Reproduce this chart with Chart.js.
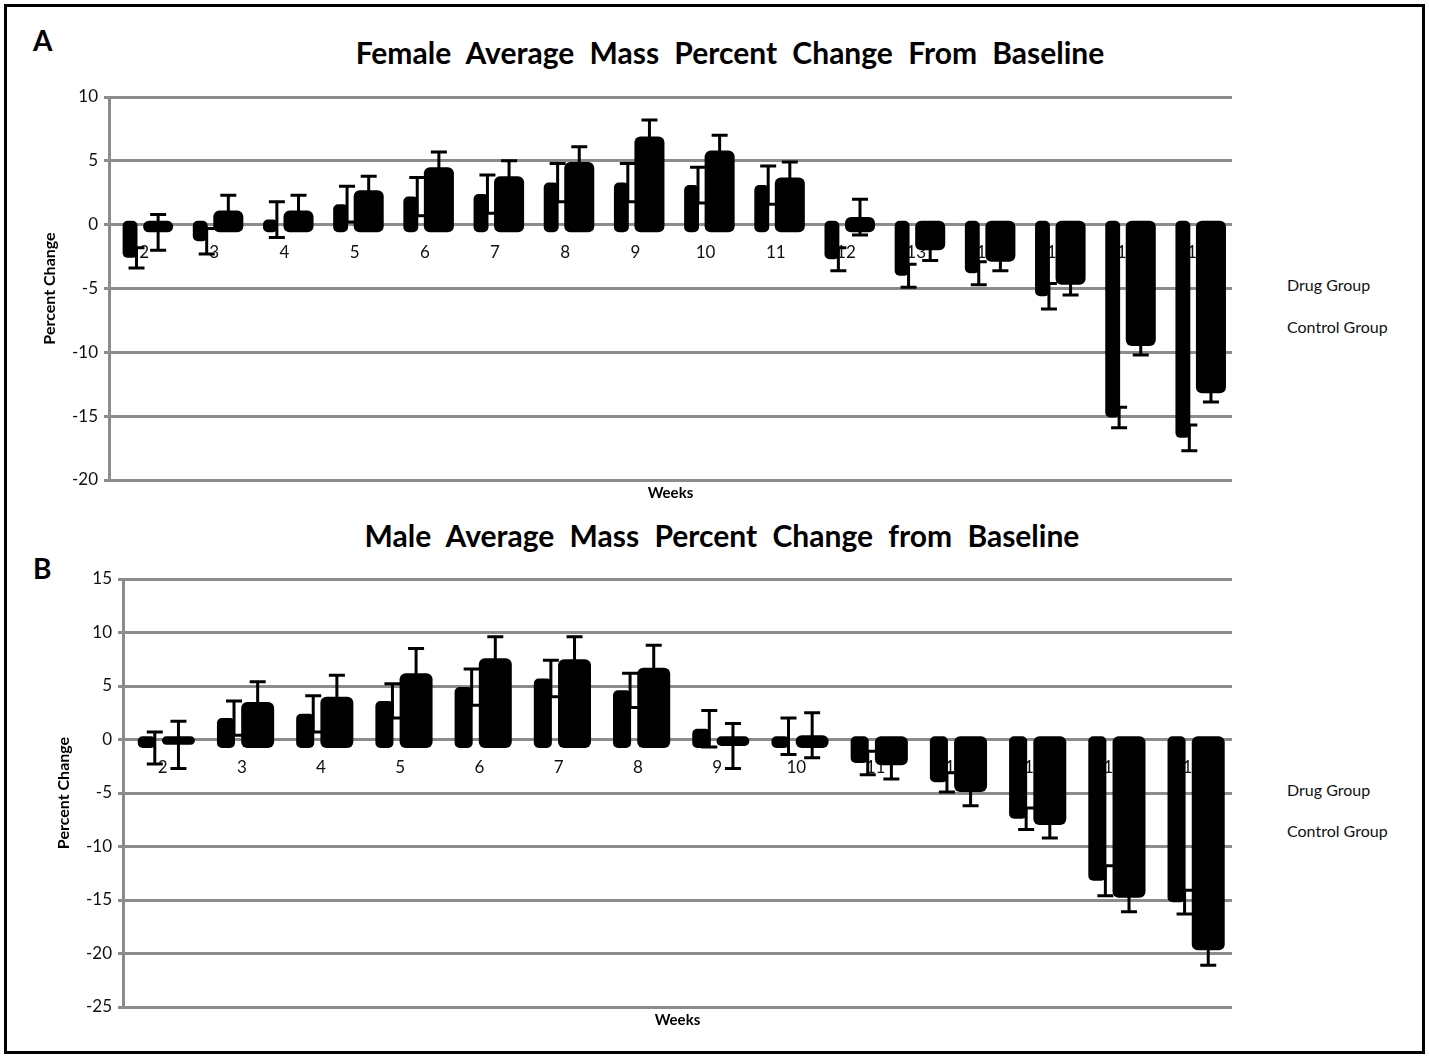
<!DOCTYPE html>
<html>
<head>
<meta charset="utf-8">
<script src="https://cdn.jsdelivr.net/npm/chart.js@4.4.1/dist/chart.umd.min.js"></script>
<style>
  body { margin: 0; background: #fff; font-family: Lato, "Open Sans", sans-serif; }
  #frame { position: absolute; left: 4px; top: 4px; width: 1415px; height: 1044px; border: 3px solid #000; }
  .txt { position: absolute; white-space: nowrap; color: #000; }
  .panel { font-weight: bold; font-size: 28px; line-height: 28px; }
  .title { font-weight: bold; font-size: 30px; line-height: 30px; word-spacing: 8px; transform: translateX(-50%); }
  .leg { font-size: 16px; line-height: 16px; color: #111; }
  canvas { position: absolute; left: 0; }
</style>
</head>
<body>
<div id="frame"></div>
<div class="txt panel" style="left:33px;top:26px">A</div>
<div class="txt title" style="left:730px;top:37px">Female Average Mass Percent Change From Baseline</div>
<div class="txt leg" style="left:1287px;top:277px">Drug Group</div>
<div class="txt leg" style="left:1287px;top:319px">Control Group</div>
<canvas id="chartA" width="1429" height="430" style="top:80px"></canvas>

<div class="txt title" style="left:722px;top:520px">Male Average Mass Percent Change from Baseline</div>
<div class="txt panel" style="left:33px;top:554px">B</div>
<div class="txt leg" style="left:1287px;top:782px">Drug Group</div>
<div class="txt leg" style="left:1287px;top:823px">Control Group</div>
<canvas id="chartB" width="1429" height="490" style="top:560px"></canvas>

<script>
// female panel (A), weeks 2-17
const weeksA = ['2','3','4','5','6','7','8','9','10','11','12','13','14','15','16','17'];
const femaleDrug       = [-2.6, -1.3, 0.4, 1.6, 2.2, 2.4, 3.3, 3.3, 3.1, 3.1, -2.7, -4.0, -3.8, -5.6, -15.1, -16.7];
const femaleDrugErr    = [ 0.8,  1.0, 1.4, 1.4, 1.5, 1.5, 1.5, 1.5, 1.4, 1.5,  0.9,  0.9,  0.9,  1.0,   0.8,   1.0];
const femaleControl    = [-0.6,  1.1, 1.1, 2.7, 4.5, 3.8, 4.9, 6.9, 5.8, 3.7,  0.6, -2.0, -2.9, -4.7,  -9.5, -13.2];
const femaleControlErr = [ 1.4,  1.2, 1.2, 1.1, 1.2, 1.2, 1.2, 1.3, 1.2, 1.2,  1.4,  0.8,  0.7,  0.8,   0.7,   0.7];

// male panel (B), weeks 2-15
const weeksB = ['2','3','4','5','6','7','8','9','10','11','12','13','14','15'];
const maleDrug       = [-0.8, 2.0, 2.4, 3.6, 4.9, 5.7, 4.6,  1.0, 0.3, -2.2, -4.0, -7.4, -13.2, -15.2];
const maleDrugErr    = [ 1.5, 1.6, 1.7, 1.6, 1.7, 1.7, 1.6,  1.7, 1.7,  1.1,  0.9,  1.0,   1.4,   1.1];
const maleControl    = [-0.5, 3.5, 4.0, 6.2, 7.6, 7.5, 6.7, -0.6, 0.4, -2.4, -4.9, -8.0, -14.8, -19.7];
const maleControlErr = [ 2.2, 1.9, 2.0, 2.3, 2.0, 2.1, 2.1,  2.1, 2.1,  1.3,  1.3,  1.2,   1.3,   1.4];

const seriesNames = ['Drug Group', 'Control Group'];

const GRID = '#8c8c8c';

// bars in the original overshoot the zero line a little, so draw them floating
function floating(vals, under, over) {
  return vals.map(v => [v >= 0 ? -under : over, v]);
}

// error bars drawn on top of the bars
const errorBars = {
  id: 'errorBars',
  afterDatasetsDraw(chart) {
    const ctx = chart.ctx;
    const y = chart.scales.y;
    chart.data.datasets.forEach((ds, di) => {
      const meta = chart.getDatasetMeta(di);
      meta.data.forEach((bar, i) => {
        const v = ds.values[i], e = ds.errors[i];
        const x = ds.errAtEdge ? bar.x + bar.width / 2 - 1 : bar.x;
        const top = y.getPixelForValue(v + e);
        const bot = y.getPixelForValue(v - e);
        ctx.save();
        ctx.strokeStyle = '#000';
        ctx.lineWidth = 3;
        ctx.beginPath();
        ctx.moveTo(x, top); ctx.lineTo(x, bot);
        ctx.moveTo(x - 8, top); ctx.lineTo(x + 8, top);
        ctx.moveTo(x - 8, bot); ctx.lineTo(x + 8, bot);
        ctx.stroke();
        ctx.restore();
      });
    });
  }
};

function makeChart(id, labels, drug, drugErr, ctrl, ctrlErr, yMin, yMax, under, pad, yWidth, drugBP, ctrlBP) {
  return new Chart(document.getElementById(id), {
    type: 'bar',
    data: {
      labels: labels,
      datasets: [{
        label: seriesNames[0],
        data: floating(drug, under, 0.3),
        values: drug, errors: drugErr, errAtEdge: true,
        backgroundColor: '#000',
        borderRadius: 5, borderSkipped: false,
        categoryPercentage: 0.8, barPercentage: drugBP
      }, {
        label: seriesNames[1],
        data: floating(ctrl, under, 0.3),
        values: ctrl, errors: ctrlErr, errAtEdge: false,
        backgroundColor: '#000',
        borderRadius: 6, borderSkipped: false,
        categoryPercentage: 0.8, barPercentage: ctrlBP
      }]
    },
    options: {
      responsive: false,
      animation: false,
      layout: { padding: pad },
      plugins: { legend: { display: false }, tooltip: { enabled: false } },
      scales: {
        x: {
          position: { y: 0 },
          grid: { display: false, drawTicks: false },
          border: { display: false },
          ticks: { color: '#111', font: { family: 'Lato', size: 17 }, padding: 18, maxRotation: 0, autoSkip: false }
        },
        x2: {
          type: 'category',
          position: 'bottom',
          grid: { display: false, drawTicks: false },
          border: { display: false },
          ticks: { display: false },
          title: { display: true, text: 'Weeks', color: '#000', font: { family: 'Lato', size: 15, weight: 'bold' }, padding: { top: 4, bottom: 4 } }
        },
        y: {
          min: yMin, max: yMax,
          ticks: { stepSize: 5, color: '#111', font: { family: 'Lato', size: 17 }, padding: 6 },
          grid: { color: GRID, lineWidth: 3, tickLength: 5, tickColor: GRID },
          border: { color: GRID, width: 3 },
          title: { display: true, text: 'Percent Change', color: '#000', font: { family: 'Lato', size: 16, weight: 'bold' } },
          afterFit(scale) { scale.width = yWidth; }
        }
      }
    },
    plugins: [errorBars]
  });
}

makeChart('chartA', weeksA, femaleDrug, femaleDrugErr, femaleControl, femaleControlErr,
  -20, 10, 0.6, { top: 17, bottom: 4, left: 36, right: 197 }, 73, 0.53, 1.07);
makeChart('chartB', weeksB, maleDrug, maleDrugErr, maleControl, maleControlErr,
  -25, 15, 0.8, { top: 19, bottom: 17, left: 50, right: 197 }, 73, 0.57, 1.04);
</script>
</body>
</html>
